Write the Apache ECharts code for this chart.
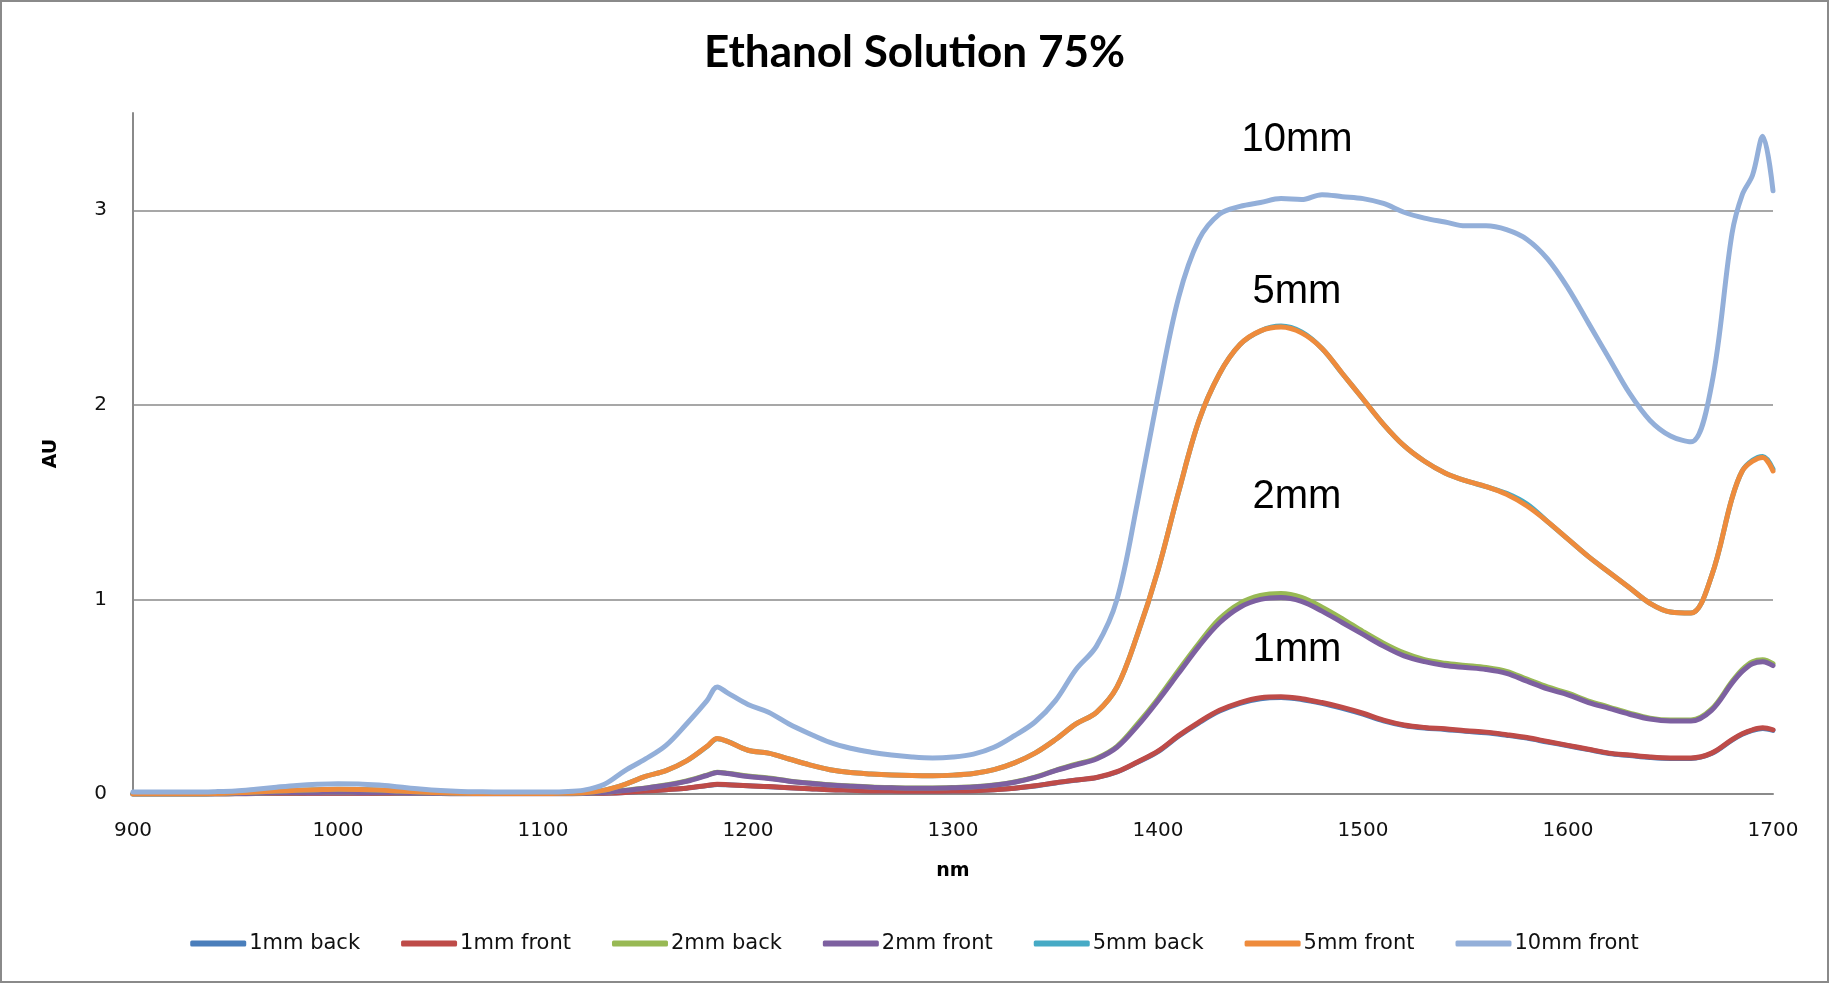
<!DOCTYPE html>
<html>
<head>
<meta charset="utf-8">
<title>Ethanol Solution 75%</title>
<script src="https://cdn.jsdelivr.net/npm/echarts@6.0.0/dist/echarts.min.js"></script>
<style>
  html, body { margin: 0; padding: 0; background: #fff; }
  #chart { width: 1829px; height: 983px; }
</style>
</head>
<body>
<div id="chart"></div>
<script>
// 波长 (nm)
const wavelengths = [
  900, 910, 920, 930, 940, 950, 960, 970, 980, 990,
  1000, 1010, 1020, 1030, 1040, 1050, 1060, 1070, 1080, 1090,
  1100, 1110, 1120, 1130, 1140, 1150, 1160, 1170, 1180, 1185,
  1190, 1200, 1210, 1220, 1230, 1240, 1250, 1260, 1270, 1280,
  1290, 1300, 1310, 1320, 1330, 1340, 1350, 1360, 1370, 1380,
  1390, 1400, 1410, 1420, 1430, 1440, 1450, 1460, 1470, 1480,
  1490, 1500, 1510, 1520, 1530, 1540, 1550, 1560, 1570, 1580,
  1590, 1600, 1610, 1620, 1630, 1640, 1650, 1660, 1670, 1680,
  1685, 1690, 1695, 1700
];

// 各系列吸光度 (AU)
const mm1Back = [
  0, 0, 0, 0, 0, 0.001, 0.002, 0.003, 0.003, 0.004,
  0.004, 0.004, 0.003, 0.003, 0.002, 0.002, 0.001, 0.001, 0.001, 0.001,
  0.001, 0.001, 0.002, 0.004, 0.008, 0.015, 0.022, 0.03, 0.043, 0.049,
  0.047, 0.042, 0.037, 0.032, 0.027, 0.022, 0.019, 0.016, 0.015, 0.014,
  0.014, 0.015, 0.017, 0.022, 0.03, 0.041, 0.057, 0.071, 0.084, 0.113,
  0.163, 0.218, 0.297, 0.366, 0.426, 0.466, 0.49, 0.496, 0.486, 0.466,
  0.44, 0.41, 0.376, 0.352, 0.339, 0.332, 0.322, 0.315, 0.302, 0.287,
  0.267, 0.248, 0.228, 0.208, 0.198, 0.188, 0.183, 0.183, 0.208, 0.277,
  0.307, 0.327, 0.337, 0.327
];
const mm1Front = [
  0, 0, 0, 0, 0, 0.001, 0.002, 0.003, 0.003, 0.004,
  0.004, 0.004, 0.003, 0.003, 0.002, 0.002, 0.001, 0.001, 0.001, 0.001,
  0.001, 0.001, 0.002, 0.004, 0.008, 0.015, 0.022, 0.03, 0.044, 0.05,
  0.048, 0.042, 0.038, 0.032, 0.027, 0.022, 0.019, 0.016, 0.015, 0.014,
  0.014, 0.015, 0.017, 0.022, 0.03, 0.042, 0.058, 0.072, 0.085, 0.115,
  0.165, 0.22, 0.3, 0.37, 0.43, 0.47, 0.495, 0.5, 0.49, 0.47,
  0.445, 0.415, 0.38, 0.355, 0.342, 0.335, 0.325, 0.318, 0.305, 0.29,
  0.27, 0.25, 0.23, 0.21, 0.2, 0.19, 0.185, 0.185, 0.21, 0.28,
  0.31, 0.33, 0.34, 0.33
];
const mm2Back = [
  0, 0, 0, 0, 0.001, 0.002, 0.004, 0.006, 0.007, 0.008,
  0.009, 0.008, 0.007, 0.005, 0.004, 0.003, 0.002, 0.002, 0.002, 0.002,
  0.002, 0.002, 0.003, 0.008, 0.019, 0.031, 0.046, 0.067, 0.097, 0.112,
  0.107, 0.092, 0.082, 0.067, 0.056, 0.047, 0.041, 0.036, 0.033, 0.031,
  0.031, 0.033, 0.037, 0.046, 0.062, 0.087, 0.122, 0.153, 0.184, 0.245,
  0.36, 0.49, 0.635, 0.775, 0.9, 0.98, 1.02, 1.03, 1.01, 0.96,
  0.9, 0.835, 0.775, 0.725, 0.69, 0.672, 0.661, 0.65, 0.63, 0.59,
  0.55, 0.518, 0.478, 0.447, 0.416, 0.39, 0.38, 0.38, 0.436, 0.578,
  0.64, 0.68, 0.69, 0.67
];
const mm2Front = [
  0, 0, 0, 0, 0.001, 0.002, 0.004, 0.006, 0.007, 0.008,
  0.009, 0.008, 0.007, 0.005, 0.004, 0.003, 0.002, 0.002, 0.002, 0.002,
  0.002, 0.002, 0.003, 0.008, 0.018, 0.03, 0.045, 0.065, 0.095, 0.11,
  0.105, 0.09, 0.08, 0.066, 0.055, 0.046, 0.04, 0.035, 0.032, 0.03,
  0.03, 0.032, 0.036, 0.045, 0.06, 0.085, 0.12, 0.15, 0.18, 0.24,
  0.35, 0.48, 0.62, 0.76, 0.88, 0.96, 1.0, 1.01, 0.99, 0.94,
  0.88, 0.82, 0.76, 0.71, 0.68, 0.66, 0.65, 0.64, 0.62, 0.58,
  0.54, 0.51, 0.47, 0.44, 0.41, 0.385, 0.375, 0.375, 0.43, 0.57,
  0.63, 0.67, 0.68, 0.66
];
const mm5Back = [
  0, 0, 0, 0, 0.003, 0.006, 0.01, 0.015, 0.019, 0.022,
  0.024, 0.023, 0.02, 0.015, 0.01, 0.006, 0.004, 0.003, 0.003, 0.003,
  0.003, 0.004, 0.006, 0.02, 0.05, 0.09, 0.12, 0.17, 0.244, 0.284,
  0.27, 0.225, 0.21, 0.18, 0.15, 0.125, 0.11, 0.103, 0.098, 0.095,
  0.094, 0.097, 0.105, 0.125, 0.16, 0.21, 0.28, 0.36, 0.42, 0.55,
  0.82, 1.15, 1.55, 1.92, 2.16, 2.31, 2.38, 2.405, 2.375, 2.29,
  2.16, 2.03, 1.9, 1.79, 1.71, 1.65, 1.61, 1.58, 1.545, 1.49,
  1.4, 1.31, 1.22, 1.14, 1.06, 0.98, 0.935, 0.93, 1.12, 1.52,
  1.66, 1.715, 1.735, 1.67
];
const mm5Front = [
  0, 0, 0, 0, 0.003, 0.006, 0.01, 0.015, 0.019, 0.022,
  0.024, 0.023, 0.02, 0.015, 0.01, 0.006, 0.004, 0.003, 0.003, 0.003,
  0.003, 0.004, 0.006, 0.02, 0.05, 0.09, 0.12, 0.17, 0.245, 0.285,
  0.27, 0.225, 0.21, 0.18, 0.15, 0.125, 0.11, 0.103, 0.098, 0.095,
  0.094, 0.097, 0.105, 0.125, 0.16, 0.21, 0.28, 0.36, 0.42, 0.55,
  0.82, 1.15, 1.55, 1.92, 2.16, 2.31, 2.38, 2.4, 2.37, 2.29,
  2.16, 2.03, 1.9, 1.79, 1.71, 1.65, 1.61, 1.58, 1.54, 1.48,
  1.4, 1.31, 1.22, 1.14, 1.06, 0.98, 0.935, 0.93, 1.12, 1.52,
  1.66, 1.71, 1.73, 1.66
];
const mm10Front = [
  0.01, 0.01, 0.01, 0.01, 0.012, 0.016, 0.025, 0.035, 0.044, 0.05,
  0.053, 0.052, 0.046, 0.036, 0.026, 0.018, 0.013, 0.011, 0.01, 0.01,
  0.01, 0.012, 0.02, 0.05, 0.12, 0.18, 0.25, 0.36, 0.48, 0.55,
  0.52, 0.46, 0.42, 0.36, 0.31, 0.265, 0.235, 0.215, 0.2, 0.19,
  0.185, 0.19, 0.205, 0.24, 0.3, 0.37, 0.48, 0.64, 0.76, 1.0,
  1.5, 2.05, 2.55, 2.85, 2.98, 3.02, 3.04, 3.06, 3.055, 3.08,
  3.07, 3.06, 3.035, 2.99, 2.96, 2.94, 2.92, 2.92, 2.9, 2.85,
  2.75, 2.6, 2.42, 2.24, 2.06, 1.92, 1.84, 1.81, 2.1, 2.88,
  3.08, 3.18, 3.38, 3.1
];

const seriesNames = ['1mm back', '1mm front', '2mm back', '2mm front', '5mm back', '5mm front', '10mm front'];
const seriesValues = [mm1Back, mm1Front, mm2Back, mm2Front, mm5Back, mm5Front, mm10Front];
const seriesColors = ['#4A7EBB', '#BE4B48', '#98B954', '#7D60A0', '#46AAC5', '#EE8B3C', '#93AFD9'];

// 曲线旁的厚度标注
const thicknessLabels = ['10mm', '5mm', '2mm', '1mm'];

function make_chart(dom_id) {
  const achart = echarts.init(document.getElementById(dom_id));

  // 把波长和数值配成 [x, y]
  const series = seriesNames.map(function (name, i) {
    return {
      name: name,
      type: 'line',
      data: wavelengths.map(function (w, j) { return [w, seriesValues[i][j]]; }),
      symbol: 'none',
      smooth: 0.35,
      color: seriesColors[i],
      lineStyle: { width: 5, cap: 'round', join: 'round' },
      silent: true
    };
  });

  // 标注文字的位置
  const labelY = [140, 292, 497, 650];
  const graphics = thicknessLabels.map(function (t, i) {
    return {
      type: 'text',
      x: 1297,
      y: labelY[i],
      style: {
        text: t,
        fontSize: 40,
        fontFamily: 'Liberation Sans, Arial, sans-serif',
        fill: '#000',
        align: 'center',
        verticalAlign: 'middle'
      }
    };
  });
  // 外框
  graphics.push({
    type: 'rect',
    shape: { x: 1, y: 1, width: 1827, height: 981 },
    style: { fill: 'none', stroke: '#8a8a8a', lineWidth: 2 }
  });

  const option = {
    backgroundColor: '#fff',
    animation: false,
    title: {
      text: 'Ethanol Solution 75%',
      left: 'center',
      top: 26,
      textStyle: {
        fontFamily: 'Lato',
        fontWeight: 'bold',
        fontSize: 44,
        color: '#000'
      }
    },
    legend: {
      data: seriesNames,
      left: 'center',
      top: 928,
      icon: 'roundRect',
      itemWidth: 56,
      itemHeight: 6,
      itemGap: 41,
      textStyle: {
        fontFamily: 'DejaVu Sans',
        fontSize: 21,
        color: '#111',
        padding: [0, 0, 0, -2]
      }
    },
    grid: {
      left: 133,
      right: 56,
      top: 113,
      bottom: 189
    },
    xAxis: {
      type: 'value',
      min: 900,
      max: 1700,
      interval: 100,
      name: 'nm',
      nameLocation: 'middle',
      nameGap: 68,
      nameTextStyle: {
        fontFamily: 'DejaVu Sans',
        fontWeight: 'bold',
        fontSize: 19,
        color: '#000'
      },
      axisLine: { lineStyle: { color: '#8a8a8a', width: 2 } },
      axisTick: { show: false },
      splitLine: { show: false },
      axisLabel: {
        margin: 27,
        fontFamily: 'DejaVu Sans',
        fontSize: 20,
        color: '#111',
        formatter: function (v) { return String(v); }
      }
    },
    yAxis: {
      type: 'value',
      min: 0,
      max: 3.5,
      interval: 1,
      name: 'AU',
      nameLocation: 'middle',
      nameGap: 72,
      nameTextStyle: {
        fontFamily: 'DejaVu Sans',
        fontWeight: 'bold',
        fontSize: 19,
        color: '#000'
      },
      axisLine: { show: true, lineStyle: { color: '#8a8a8a', width: 2 } },
      axisTick: { show: false },
      splitLine: {
        show: true,
        showMaxLine: false,
        lineStyle: { color: '#8a8a8a', width: 1.5 }
      },
      axisLabel: {
        margin: 26,
        showMaxLabel: false,
        fontFamily: 'DejaVu Sans',
        fontSize: 20,
        color: '#111'
      }
    },
    graphic: graphics,
    series: series
  };

  achart.setOption(option);
}

make_chart('chart');
</script>
</body>
</html>
